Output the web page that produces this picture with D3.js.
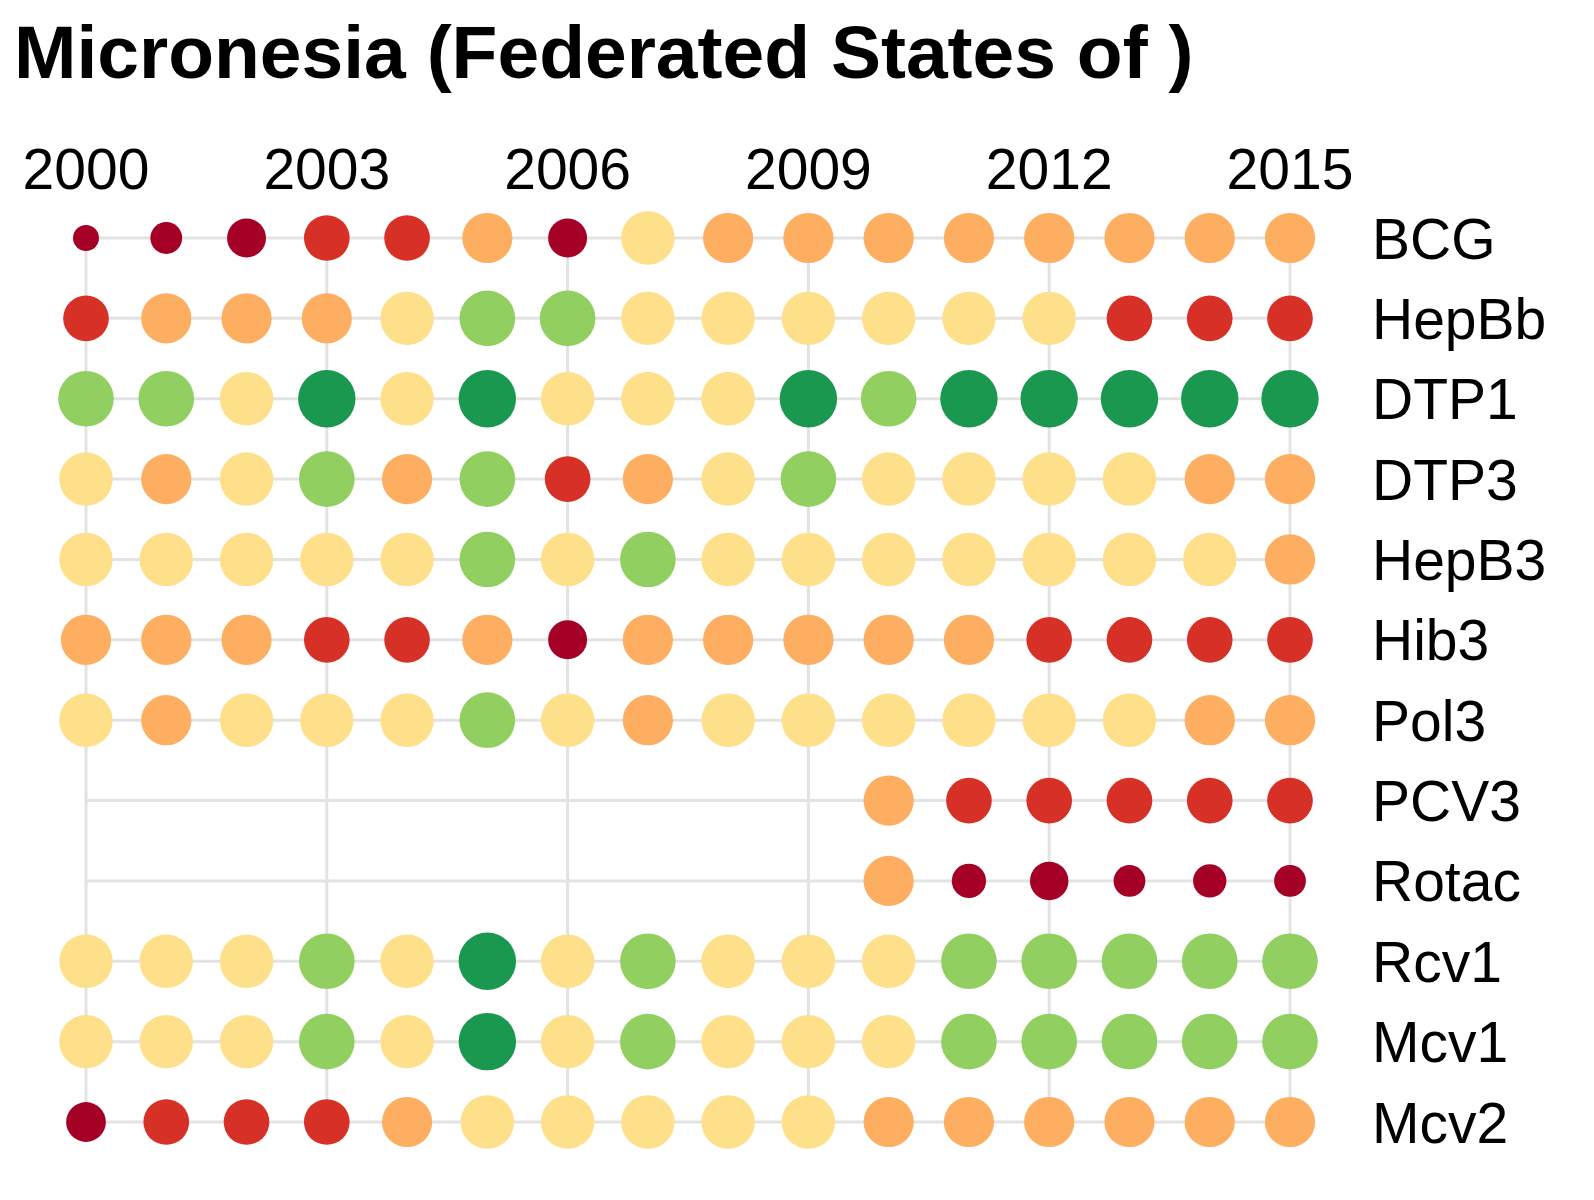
<!DOCTYPE html>
<html>
<head>
<meta charset="utf-8">
<script src="https://cdn.jsdelivr.net/npm/d3@7"></script>
<style>
body { margin: 0; background: #fff; }
text { font-family: "Liberation Sans", Arial, sans-serif; }
</style>
</head>
<body>
<script>
var years = d3.range(2000, 2016);
var tickYears = [2000, 2003, 2006, 2009, 2012, 2015];
var vaccines = ["BCG","HepBb","DTP1","DTP3","HepB3","Hib3","Pol3","PCV3","Rotac","Rcv1","Mcv1","Mcv2"];

// coverage estimates (null = no data)
var BCG   = [20,30,45,62,62,75,45,85,75,75,75,75,75,75,75,75];
var HepBb = [62,75,75,75,85,92,92,85,85,85,85,85,85,62,62,62];
var DTP1  = [92,92,85,98,85,98,85,85,85,98,92,98,98,98,98,98];
var DTP3  = [85,75,85,92,75,92,62,75,85,92,85,85,85,85,75,75];
var HepB3 = [85,85,85,85,85,92,85,92,85,85,85,85,85,85,85,75];
var Hib3  = [75,75,75,62,62,75,45,75,75,75,75,75,62,62,62,62];
var Pol3  = [85,75,85,85,85,92,85,75,85,85,85,85,85,85,75,75];
var PCV3  = [null,null,null,null,null,null,null,null,null,null,75,62,62,62,62,62];
var Rotac = [null,null,null,null,null,null,null,null,null,null,75,35,44,30,33,30];
var Rcv1  = [85,85,85,92,85,98,85,92,85,85,85,92,92,92,92,92];
var Mcv1  = [85,85,85,92,85,98,85,92,85,85,85,92,92,92,92,92];
var Mcv2  = [47,62,62,62,75,85,85,85,85,85,75,75,75,75,75,75];
var rows = [BCG,HepBb,DTP1,DTP3,HepB3,Hib3,Pol3,PCV3,Rotac,Rcv1,Mcv1,Mcv2];

var svg = d3.select("body").append("svg").attr("width",1594).attr("height",1200);

var x = d3.scaleLinear().domain([2000,2015]).range([86,1290]);
var y = d3.scalePoint().domain(vaccines).range([238,1122]);
var r = d3.scaleSqrt().domain([0,100]).range([0,29]);
var color = d3.scaleThreshold().domain([50,70,80,90,95])
	.range(["#a50026","#d73027","#fdae61","#fee08b","#91cf60","#1a9850"]);

svg.append("text").attr("x",14).attr("y",78)
	.attr("font-size",75).attr("font-weight","bold")
	.text("Micronesia (Federated States of )");

var grid = svg.append("g").attr("stroke","#e3e3e3").attr("stroke-width",3);
grid.selectAll("line.v").data(tickYears).enter().append("line")
	.attr("x1",function(d){return x(d);}).attr("x2",function(d){return x(d);})
	.attr("y1",y("BCG")).attr("y2",y("Mcv2"));
grid.selectAll("line.h").data(vaccines).enter().append("line")
	.attr("x1",x(2000)).attr("x2",x(2015))
	.attr("y1",function(d){return y(d);}).attr("y2",function(d){return y(d);});

svg.selectAll("text.yr").data(tickYears).enter().append("text")
	.attr("x",function(d){return x(d);}).attr("y",189)
	.attr("text-anchor","middle").attr("font-size",57)
	.text(function(d){return d;});

svg.selectAll("text.vac").data(vaccines).enter().append("text")
	.attr("x",1372).attr("y",function(d){return y(d);})
	.attr("dy","0.36em").attr("font-size",57)
	.text(function(d){return d;});

rows.forEach(function(vals,i){
	svg.append("g").selectAll("circle")
		.data(vals.map(function(v,j){return {v:v,yr:years[j]};}).filter(function(d){return d.v !== null;}))
		.enter().append("circle")
		.attr("cx",function(d){return x(d.yr);})
		.attr("cy",y(vaccines[i]))
		.attr("r",function(d){return r(d.v);})
		.attr("fill",function(d){return color(d.v);});
});
</script>
</body>
</html>
